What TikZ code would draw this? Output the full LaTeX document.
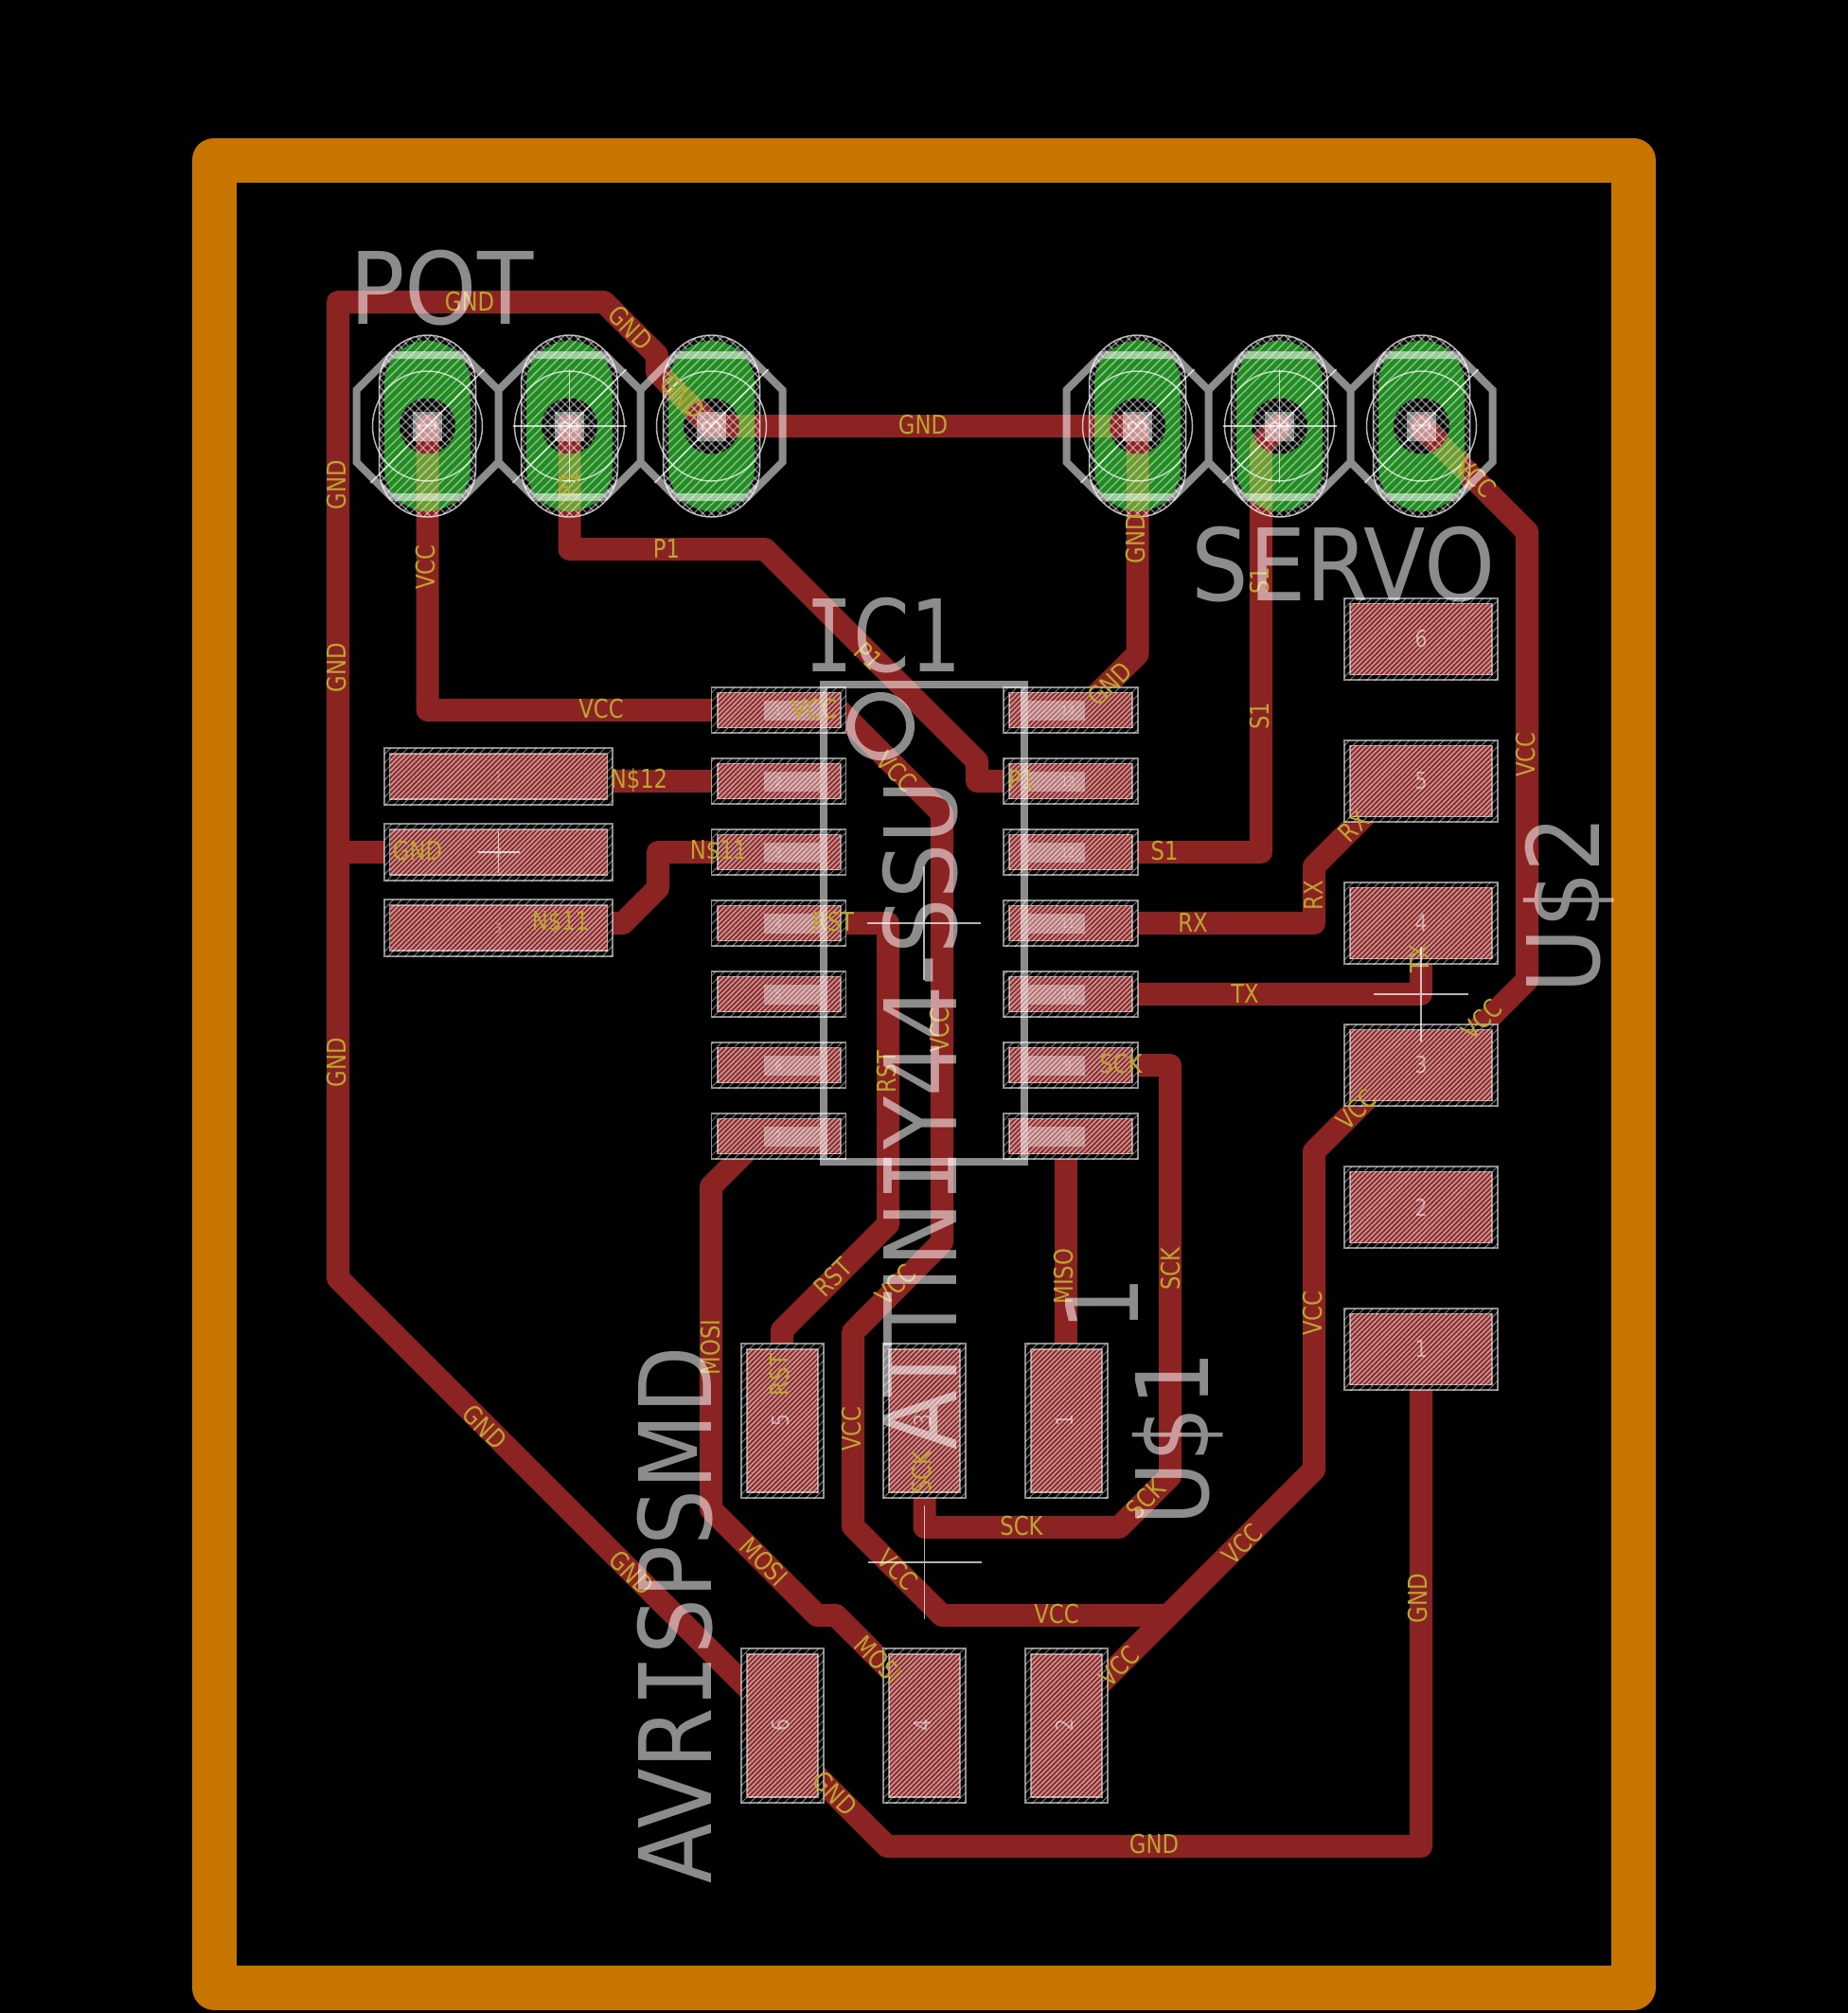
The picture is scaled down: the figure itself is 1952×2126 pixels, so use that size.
\documentclass[tikz,border=0pt]{standalone}
\usepackage{fontspec}
\usepackage{graphicx}
\usetikzlibrary{patterns.meta}
\newfontfamily\lblfont[FakeStretch=0.83]{DejaVu Sans}
\newfontfamily\bigfont{DejaVu Sans}
\newfontfamily\bigmono{DejaVu Sans Mono}
\definecolor{copper}{RGB}{140,35,35}
\definecolor{olivecu}{RGB}{110,158,50}
\definecolor{boardc}{RGB}{200,117,0}
\definecolor{padgreen}{RGB}{34,139,34}
\definecolor{netc}{RGB}{188,165,47}
\definecolor{stripepink}{RGB}{196,146,146}
\definecolor{stripegrey}{RGB}{135,135,135}
\newcommand{\bigtxt}[2]{\scalebox{#1}[1]{\bigfont\fontsize{52.8}{54}\selectfont #2}}
\newcommand{\I}{{\bigmono I}}
\tikzset{
  trace/.style={line width=12pt,line cap=round,line join=round},
  silk/.style={draw=white,draw opacity=.55,line width=4pt,line join=miter},
  thinw/.style={draw=white,draw opacity=.7,line width=.75pt},
  hatchln/.style={draw=white,draw opacity=.45,line width=.75pt},
  netlabel/.style={text=netc,inner sep=0pt,anchor=center,font=\lblfont\fontsize{13.7}{14}\selectfont},
  bigtext/.style={text=white,text opacity=.55,inner sep=0pt,anchor=base west},
  padnum/.style={text=white,inner sep=0pt,anchor=center},
  padfine/.style={pattern={Lines[angle=45,distance=1.85pt,line width=.9pt]},pattern color=stripepink},
  padwide/.style={pattern={Lines[angle=45,distance=3.2pt,line width=.4pt]},pattern color=stripegrey},
}
% centre x, centre y, inner w/2, inner h/2, outer w/2, outer h/2
\newcommand{\smdpad}[6]{%
  \fill[black] (#1-#5,#2-#6) rectangle (#1+#5,#2+#6);
  \path[padwide] (#1-#5,#2-#6) rectangle (#1+#5,#2+#6);
  \draw[draw=white,draw opacity=.55,line width=.7pt] (#1-#5,#2-#6) rectangle (#1+#5,#2+#6);
  \fill[copper] (#1-#3,#2-#4) rectangle (#1+#3,#2+#4);
  \path[padfine] (#1-#3,#2-#4) rectangle (#1+#3,#2+#4);
  \draw[draw=white,draw opacity=.5,line width=.8pt] (#1-#3,#2-#4) rectangle (#1+#3,#2+#4);
}
\newcommand{\alltraces}[1]{%
  % GND
  \draw[trace,draw=#1] (751.5,450) -- (694,393) -- (694,375) -- (638,319) -- (357,319) -- (357,1350) -- (810,1803) -- (810,1823) -- (937,1950) -- (1501,1950) -- (1501,1425);
  \draw[trace,draw=#1] (357,900) -- (420,900);
  \draw[trace,draw=#1] (751.5,450) -- (1201.5,450) -- (1201.5,691) -- (1146,746);
  % VCC
  \draw[trace,draw=#1] (451.5,450) -- (451.5,750) -- (886,750) -- (995,859) -- (995,1312) -- (901,1407) -- (901,1612) -- (995,1706) -- (1234,1706);
  \draw[trace,draw=#1] (1126,1814) -- (1388,1552) -- (1388,1216) -- (1479,1125) -- (1523,1125) -- (1613,1035) -- (1613,561.5) -- (1501.5,450);
  % P1
  \draw[trace,draw=#1] (601.5,450) -- (601.5,580) -- (808,580) -- (1032,804) -- (1032,825) -- (1100,825);
  % S1
  \draw[trace,draw=#1] (1351.5,450) -- (1332,470) -- (1332,900) -- (1150,900);
  % RX, TX
  \draw[trace,draw=#1] (1150,975) -- (1388,975) -- (1388,915) -- (1460,843);
  \draw[trace,draw=#1] (1150,1050) -- (1501,1050) -- (1501,1000);
  % N$12, N$11
  \draw[trace,draw=#1] (640,825) -- (770,825);
  \draw[trace,draw=#1] (640,975) -- (658,975) -- (695,938) -- (695,900) -- (780,900);
  % RST
  \draw[trace,draw=#1] (800,975) -- (938,975) -- (938,1293) -- (826,1405) -- (826,1450);
  % MOSI
  \draw[trace,draw=#1] (804,1200) -- (751,1253) -- (751,1594) -- (863,1706) -- (883,1706) -- (976.5,1800);
  % SCK
  \draw[trace,draw=#1] (1150,1125) -- (1236,1125) -- (1236,1559) -- (1182,1613) -- (976.5,1613) -- (976.5,1550);
  % MISO
  \draw[trace,draw=#1] (1126,1210) -- (1126,1450);
}
\begin{document}
\begin{tikzpicture}[x=0.5pt,y=-0.5pt]
\useasboundingbox (0,0) rectangle (1952,2126);
\fill[black] (0,0) rectangle (1952,2126);
% board outline
\draw[draw=boardc,line width=23.5pt,line join=round] (226,169) rectangle (1725,2099);
% through-hole pads, base
\foreach \x in {451.5,601.5,751.5,1201.5,1351.5,1501.5}{
  \fill[padgreen,rounded corners=22.75pt] (\x-45.5,360) rectangle (\x+45.5,540);
  \fill[black] (\x,450) circle[radius=29.5];
}
\alltraces{copper}
% copper seen through the green pads
\foreach \x in {451.5,601.5,751.5,1201.5,1351.5,1501.5}{
  \begin{scope}[even odd rule]
    \clip[rounded corners=22.75pt] (\x-45.5,360) rectangle (\x+45.5,540) [sharp corners] (\x,450) circle[radius=29.5];
    \alltraces{olivecu}
  \end{scope}
}
% hatching and pad details
\foreach \x in {451.5,601.5,751.5,1201.5,1351.5,1501.5}{
  \begin{scope}
    \clip[rounded corners=25.5pt] (\x-51,354) rectangle (\x+51,546);
    \foreach \t in {-22,...,22}{
      \draw[hatchln] (\x+\t*9.2-110,560) -- (\x+\t*9.2+110,340);
    }
  \end{scope}
  \begin{scope}[even odd rule]
    \clip[rounded corners=25.5pt] (\x-51,354) rectangle (\x+51,546) [rounded corners=22.75pt] (\x-45.5,360) rectangle (\x+45.5,540) [sharp corners] (\x,450) circle[radius=29.5];
    \foreach \t in {-22,...,22}{
      \draw[hatchln] (\x+\t*9.2-110,340) -- (\x+\t*9.2+110,560);
    }
  \end{scope}
  \draw[thinw,rounded corners=25.5pt] (\x-51,354) rectangle (\x+51,546);
  \draw[thinw] (\x,450) circle[radius=58];
  \draw[thinw] (\x-60,510) -- (\x+60,390);
  \fill[white,fill opacity=.5] (\x-15.5,434.5) rectangle (\x+15.5,465.5);
}
\foreach \x in {601.5,1351.5}{
  \draw[thinw] (\x-60,450) -- (\x+60,450) (\x,390) -- (\x,510);
}
\foreach \x/\t [count=\i] in {451.5/1,601.5/2,751.5/3,1201.5/3,1351.5/2,1501.5/1}{
  \node[padnum,text opacity=.5,rotate=90,font=\lblfont\fontsize{13.7}{14}\selectfont] (thnum\i) at (\x,450) {\t};
}
% SMD pads
\foreach \y/\t [count=\i] in {820/1,900/2,980/3}{
  \smdpad{526.5}{\y}{115}{24}{120.5}{30}
  \node[padnum,text opacity=.3,font=\lblfont\fontsize{7}{8}\selectfont] (hdr\i) at (526.5,\y) {\t};
}
\foreach \y/\l/\r [count=\i] in {750/1/14,825/2/13,900/3/12,975/4/11,1050/5/10,1125/6/9,1200/7/8}{
  \smdpad{822.7}{\y}{65}{18.5}{71}{24}
  \smdpad{1131}{\y}{65}{18.5}{71}{24}
  \fill[white,fill opacity=.35] (807,\y-10.5) rectangle (866,\y+10.5);
  \fill[white,fill opacity=.35] (1086,\y-10.5) rectangle (1146,\y+10.5);
  \node[padnum,text opacity=.3,font=\lblfont\fontsize{7}{8}\selectfont] (icl\i) at (822,\y) {\l};
  \node[padnum,text opacity=.3,font=\lblfont\fontsize{7}{8}\selectfont] (icr\i) at (1128,\y) {\r};
}
\foreach \y/\t [count=\i] in {675/6,825/5,975/4,1125/3,1275/2,1425/1}{
  \smdpad{1501}{\y}{75}{37.5}{81}{43}
  \node[padnum,text opacity=.5,font=\lblfont\fontsize{12.3}{13}\selectfont] (hdrb\i) at (1501,\y) {\t};
}
\foreach \x/\t/\b [count=\i] in {826.5/5/6,976.5/3/4,1126.5/1/2}{
  \smdpad{\x}{1500.5}{37.5}{75.5}{43.5}{81.5}
  \smdpad{\x}{1822.5}{37.5}{75.5}{43.5}{81.5}
  \node[padnum,text opacity=.5,rotate=90,font=\lblfont\fontsize{12.3}{13}\selectfont] (ispt\i) at (\x-2,1500) {\t};
  \node[padnum,text opacity=.5,rotate=90,font=\lblfont\fontsize{12.3}{13}\selectfont] (ispb\i) at (\x-2,1822) {\b};
}
% net names
\foreach \x/\y/\r/\t [count=\i] in {
 496/319/0/GND, 666/346/-45/GND, 721/419/-45/GND, 975/449/0/GND, 601/512/90/P1, 356/512/90/GND,
 450/599/90/VCC, 704/580/0/P1, 1200/569/90/GND, 1331/613/90/S1, 1559/504/-45/VCC, 356/705/90/GND,
 918/693/-45/P1, 1172/722/45/GND, 635/749/0/VCC, 860/749/0/VCC, 947/815/-45/VCC, 1331/756/90/S1,
 1612/797/90/VCC, 675/824/0/N\$12, 1079/824/0/P1, 759/899/0/N\$11, 1430/873/45/RX, 1230/899/0/S1,
 441/899/0/GND, 592/974/0/N\$11, 880/974/0/RST, 1260/974/0/RX, 1387/946/90/RX, 1315/1049/0/TX,
 1499/1013/90/TX, 1565/1077/45/VCC, 993/1088/90/VCC, 356/1122/90/GND, 937/1132/90/RST, 1184/1124/0/SCK,
 1433/1172/45/VCC, 1124/1348/90/MISO, 1237/1340/90/SCK, 880/1349/45/RST, 946/1357/45/VCC, 1387/1387/90/VCC,
 751/1423/90/MOSI, 824/1452/90/RST, 900/1509/90/VCC, 974/1555/90/SCK, 1210/1583/45/SCK, 512/1507/-45/GND,
 807/1649/-45/MOSI, 1079/1612/0/SCK, 1312/1631/45/VCC, 948/1658/-45/VCC, 667/1661/-45/GND, 1498/1688/90/GND,
 1116/1705/0/VCC, 1182/1760/45/VCC, 928/1753/-45/MOSI, 882/1894/-45/GND, 1219/1948/0/GND}{
  \node[netlabel,rotate=\r] (net\i) at (\x,\y) {\t};
}
% silk: octagons, IC body
\draw[silk] \foreach \x in {451.5,601.5,751.5}{(\x-75,412) -- (\x-38,375) -- (\x+38,375) -- (\x+75,412) -- (\x+75,488) -- (\x+38,525) -- (\x-38,525) -- (\x-75,488) -- cycle};
\draw[silk] \foreach \x in {1201.5,1351.5,1501.5}{(\x-75,412) -- (\x-38,375) -- (\x+38,375) -- (\x+75,412) -- (\x+75,488) -- (\x+38,525) -- (\x-38,525) -- (\x-75,488) -- cycle};
\draw[silk] (870,723) rectangle (1082,1227);
\draw[silk,line width=4.5pt] (930,767) circle[radius=31.5];
% origin crosses
\draw[thinw] (916,975) -- (1036,975) (976,915) -- (976,1035);
\draw[thinw] (1451,1050) -- (1551,1050) (1501,1000) -- (1501,1100);
\draw[thinw] (916.5,1650) -- (1036.5,1650) (976.5,1590) -- (976.5,1710);
\draw[thinw] (504.5,900) -- (548.5,900) (526.5,878) -- (526.5,922);
% part names
\node[bigtext] (pot) at (369,342) {\bigtxt{0.92}{POT}};
\node[bigtext] (servo) at (1258,634) {\bigtxt{0.905}{SERVO}};
\node[bigtext] (ic1) at (850,709) {\bigtxt{0.81}{\I C1}};
\node[bigtext,rotate=90] (attiny) at (1010,1532) {\bigtxt{0.87}{ATTIN\I Y44-SSU}};
\node[bigtext,rotate=90] (avr) at (751,1990) {\bigtxt{0.88}{AVR\I SPSMD}};
\node[bigtext,rotate=90] (u1) at (1276,1612) {\bigtxt{0.87}{U\$1}};
\node[bigtext,rotate=90] (u2) at (1689,1050) {\bigtxt{0.89}{U\$2}};
\node[bigtext,rotate=90] (val1) at (1202,1406) {\bigtxt{0.85}{1}};
\end{tikzpicture}
\end{document}
